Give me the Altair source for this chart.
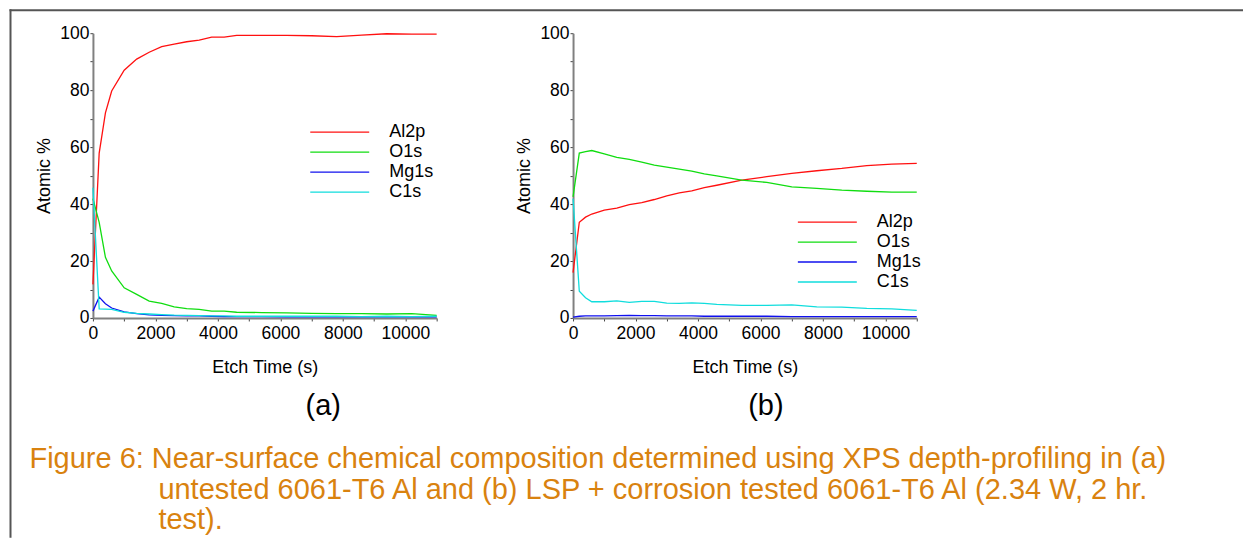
import altair as alt
import pandas as pd

# ---------------- data ----------------
series = ["Al2p", "O1s", "Mg1s", "C1s"]
colors = ["#ff1010", "#10dd10", "#1010ee", "#10dddd"]

times = [0, 200, 400, 600, 1000, 1400, 1800, 2200, 2600, 3000, 3400,
         3800, 4200, 4600, 5400, 6200, 7000, 7800, 8600, 9400, 10200, 11000]

a_al2p = [11.8, 57.9, 72.0, 79.7, 87.0, 90.9, 93.3, 95.3, 96.2, 97.0, 97.6,
          98.6, 98.6, 99.2, 99.2, 99.2, 99.1, 98.8, 99.3, 99.8, 99.7, 99.7]
a_o1s = [41.9, 33.6, 21.3, 16.5, 10.6, 8.3, 5.9, 5.1, 3.9, 3.3, 3.0,
         2.4, 2.4, 2.0, 1.9, 1.8, 1.6, 1.5, 1.5, 1.4, 1.5, 0.9]
a_mg1s = [2.4, 7.3, 5.0, 3.5, 2.1, 1.5, 1.1, 0.9, 0.8, 0.7, 0.7,
          0.6, 0.5, 0.5, 0.5, 0.4, 0.4, 0.4, 0.4, 0.4, 0.4, 0.4]
a_c1s = [45.7, 3.2, 3.1, 3.0, 2.0, 1.6, 1.4, 1.2, 1.0, 0.9, 0.8,
         0.7, 0.7, 0.6, 0.6, 0.6, 0.6, 0.6, 0.5, 0.6, 0.5, 0.6]

b_al2p = [15.9, 33.6, 35.4, 36.5, 37.9, 38.6, 39.8, 40.5, 41.6, 42.9, 43.9,
          44.6, 45.8, 46.6, 48.4, 49.6, 50.8, 51.7, 52.5, 53.5, 54.0, 54.3]
b_o1s = [42.5, 57.9, 58.4, 58.8, 57.6, 56.4, 55.7, 54.7, 53.7, 53.0, 52.3,
         51.6, 50.6, 49.9, 48.4, 47.6, 46.0, 45.5, 44.9, 44.5, 44.2, 44.2]
b_mg1s = [0.3, 0.6, 0.7, 0.7, 0.7, 0.8, 0.9, 0.8, 0.8, 0.7, 0.7,
          0.7, 0.6, 0.6, 0.6, 0.6, 0.5, 0.5, 0.5, 0.5, 0.5, 0.5]
b_c1s = [41.9, 9.4, 7.1, 5.7, 5.7, 6.0, 5.5, 5.8, 5.8, 5.2, 5.1,
         5.3, 5.1, 4.8, 4.4, 4.4, 4.6, 3.9, 3.8, 3.4, 3.2, 2.7]

x_ticks = list(range(0, 11001, 1000))
y_ticks = list(range(0, 101, 10))

panel_labels = ["(a)", "(b)"]
caption_lines = [
    "Figure 6: Near-surface chemical composition determined using XPS depth-profiling in (a)",
    "untested 6061-T6 Al and (b) LSP + corrosion tested 6061-T6 Al (2.34 W, 2 hr.",
    "test).",
]

FONT = "Liberation Sans"
W, H = 344, 285
CAP_COLOR = "#d9820f"
one = pd.DataFrame({"k": [0]})


def long_df(vals):
    rows = []
    for name, v in zip(series, vals):
        for t, y in zip(times, v):
            rows.append({"t": t, "pct": y, "el": name})
    return pd.DataFrame(rows)


def legend_layers(lx, ly):
    out = []
    for i, (name, col) in enumerate(zip(series, colors)):
        yy = ly + 20 * i
        out.append(alt.Chart(one).mark_rule(color=col, strokeWidth=1.3).encode(
            x=alt.value(lx), x2=alt.value(lx + 59), y=alt.value(yy)))
        out.append(alt.Chart(pd.DataFrame({"s": [name]})).mark_text(
            font=FONT, fontSize=18, color="black", align="left", baseline="middle"
        ).encode(text="s:N", x=alt.value(lx + 79), y=alt.value(yy)))
    return out


def panel(vals, label, label_x, leg_x, leg_y, extra=None):
    df = long_df(vals)
    lines = alt.Chart(df).mark_line(strokeWidth=1.3, clip=False).encode(
        x=alt.X("t:Q", title="Etch Time (s)",
                scale=alt.Scale(domain=[0, 11000], nice=False),
                axis=alt.Axis(values=x_ticks, format="d", labelFlush=False,
                              labelExpr="datum.value % 2000 == 0 ? datum.label : ''",
                              labelPadding=4, titlePadding=16)),
        y=alt.Y("pct:Q", title="Atomic %",
                scale=alt.Scale(domain=[0, 100], nice=False),
                axis=alt.Axis(values=y_ticks, labelFlush=False,
                              labelExpr="datum.value % 20 == 0 ? datum.label : ''",
                              labelPadding=1, titlePadding=6)),
        color=alt.Color("el:N", scale=alt.Scale(domain=series, range=colors),
                        sort=series, legend=None),
    )
    lab = alt.Chart(pd.DataFrame({"s": [label]})).mark_text(
        font=FONT, fontSize=29, color="black", baseline="middle", align="center"
    ).encode(text="s:N", x=alt.value(label_x), y=alt.value(373))
    layers = [lines, lab] + legend_layers(leg_x, leg_y)
    if extra:
        layers += extra
    return alt.layer(*layers).properties(width=W, height=H)


frame_v = alt.Chart(one).mark_rule(color="#555555", strokeWidth=2).encode(
    x=alt.value(-82.5), y=alt.value(-24), y2=alt.value(505))
frame_h = alt.Chart(one).mark_rule(color="#555555", strokeWidth=2).encode(
    x=alt.value(-83.5), x2=alt.value(1151), y=alt.value(-23))


def cap(i, x, y):
    return alt.Chart(pd.DataFrame({"s": [caption_lines[i]]})).mark_text(
        font=FONT, fontSize=29, color=CAP_COLOR, align="left", baseline="alphabetic"
    ).encode(text="s:N", x=alt.value(x), y=alt.value(y))


pa = panel([a_al2p, a_o1s, a_mg1s, a_c1s], panel_labels[0], 230.5, 217.5, 99,
           extra=[frame_v, frame_h, cap(0, -63.5, 435), cap(1, 65.5, 466),
                  cap(2, 65.5, 496)])
pb = panel([b_al2p, b_o1s, b_mg1s, b_c1s], panel_labels[1], 193, 225, 189)

chart = alt.hconcat(pa, pb, spacing=136.5, bounds="flush").resolve_scale(
    color="independent"
).properties(padding=0).configure_view(stroke=None).configure_axis(
    grid=False, domainColor="#808080", domainWidth=2, tickColor="#444444",
    tickSize=3, tickWidth=1, labelFont=FONT, labelFontSize=17.5, labelColor="black",
    titleFont=FONT, titleFontSize=18, titleFontWeight="normal", titleColor="black",
    labelOverlap=False,
)

chart.save("out.html", embed_options={"renderer": "svg", "actions": False})
